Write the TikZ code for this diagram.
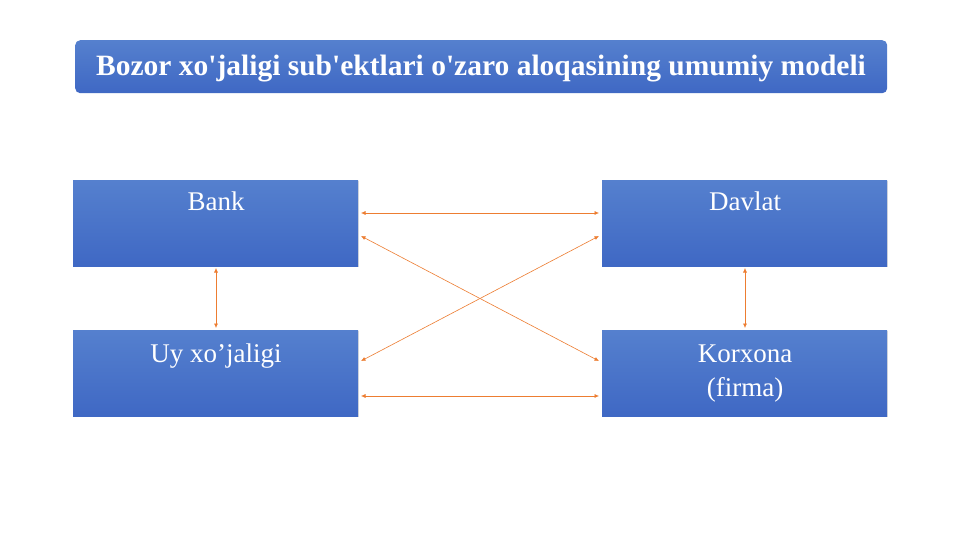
\documentclass[tikz,border=0pt]{standalone}
\usepackage{fontspec}
\setmainfont{Liberation Serif}[Ligatures=TeXOff]
\usetikzlibrary{arrows.meta,shadows}
\definecolor{boxtop}{HTML}{5580CE}
\definecolor{boxbot}{HTML}{3F68C4}
\definecolor{link}{HTML}{ED7D31}
\tikzset{
  ent/.style={draw=none, top color=boxtop, bottom color=boxbot, minimum width=285pt, minimum height=86pt, anchor=north west, inner sep=0pt, drop shadow={shadow xshift=1pt, shadow yshift=-1pt, opacity=0.25}},
  lbl/.style={text=white, font=\fontsize{27}{34}\selectfont, align=center, anchor=base, inner sep=0pt},
  rel/.style={draw=link, line width=0.6pt, {Latex[length=4.5pt,width=4pt]}-{Latex[length=4.5pt,width=4pt]}}
}
\begin{document}
\begin{tikzpicture}[x=1pt,y=-1pt]
\useasboundingbox (0,0) rectangle (961,540);
\fill[white] (0,0) rectangle (961,540);
\node[draw=none, top color=boxtop, bottom color=boxbot, rounded corners=5pt, minimum width=812pt, minimum height=53pt, anchor=north west, inner sep=0pt] (title) at (75,40) {};
\node[text=white, font=\bfseries\fontsize{29.5}{34}\selectfont, anchor=base, inner sep=0pt] (titletext) at (481,76) {Bozor xo'jaligi sub'ektlari o'zaro aloqasining umumiy modeli};
\node[ent] (bank) at (73,180) {};
\node[lbl] (bankt) at (216,211) {Bank};
\node[ent] (davlat) at (602,180) {};
\node[lbl] (davlatt) at (745,211) {Davlat};
\node[ent] (uy) at (73,330) {};
\node[lbl] (uyt) at (216,362) {Uy xo’jaligi};
\node[ent] (kor) at (602,330) {};
\node[lbl] (kort) at (745,362) {Korxona};
\node[lbl] (kort2) at (745,396) {(firma)};
\coordinate (b1) at (361,213); \coordinate (d1) at (599,213);
\coordinate (b2) at (361,236); \coordinate (k2) at (599,361);
\coordinate (d2) at (599,236); \coordinate (u2) at (361,361);
\coordinate (u3) at (361,396); \coordinate (k3) at (599,396);
\coordinate (b4) at (216,268); \coordinate (u4) at (216,328);
\coordinate (d5) at (745,268); \coordinate (k5) at (745,328);
\draw[rel] (b1) -- (d1);
\draw[rel] (b2) -- (k2);
\draw[rel] (d2) -- (u2);
\draw[rel] (u3) -- (k3);
\draw[rel] (b4) -- (u4);
\draw[rel] (d5) -- (k5);
\end{tikzpicture}
\end{document}
